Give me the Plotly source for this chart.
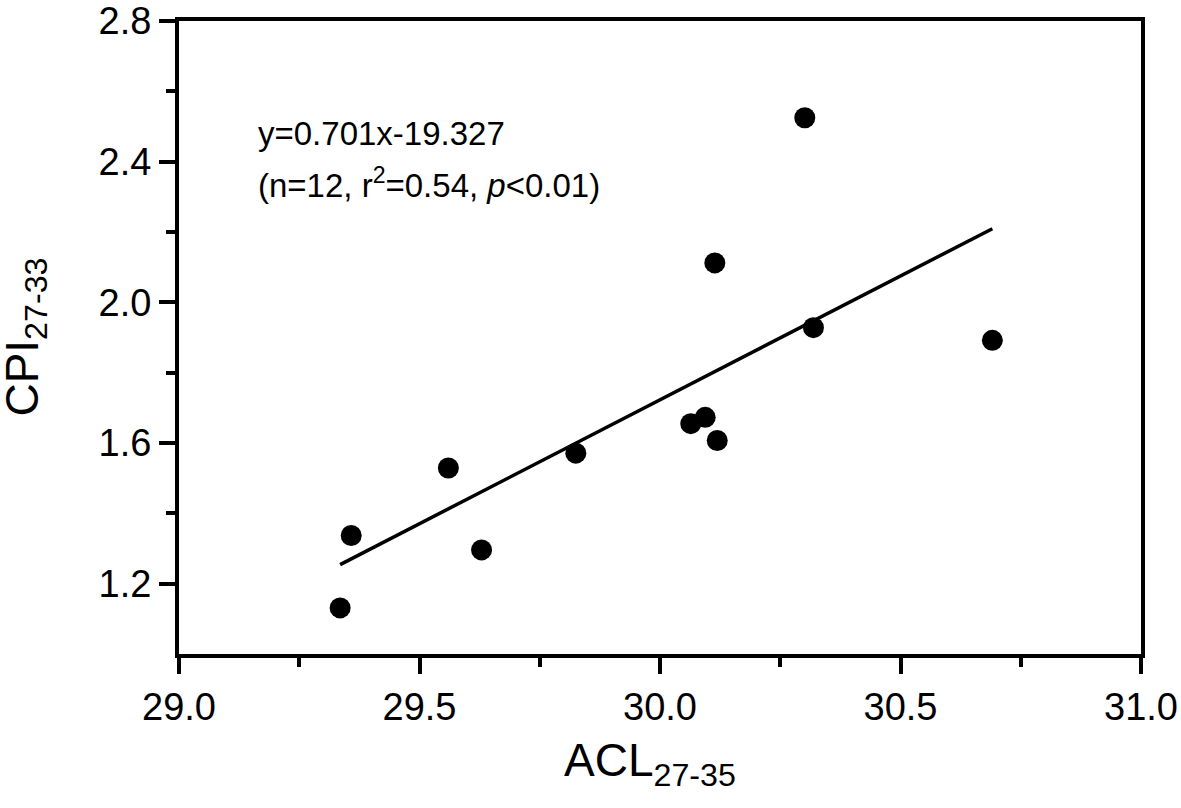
import numpy as np
import plotly.graph_objects as go

# Data
acl = [29.335, 29.358, 29.560, 29.629, 29.825, 30.064, 30.094, 30.119, 30.114, 30.301, 30.319, 30.691]
cpi = [1.131, 1.337, 1.529, 1.296, 1.571, 1.655, 1.673, 1.607, 2.112, 2.525, 1.928, 1.892]

x_ticks = [29.0, 29.5, 30.0, 30.5, 31.0]
x_ticklabels = ["29.0", "29.5", "30.0", "30.5", "31.0"]
y_ticks = [1.2, 1.6, 2.0, 2.4, 2.8]
y_ticklabels = ["1.2", "1.6", "2.0", "2.4", "2.8"]

x_title = "ACL<sub>27-35</sub>"
y_title = "CPI<sub>27-33</sub>"
eq_text = "y=0.701x-19.327"
stat_text = "(n=12, r<sup>2</sup>=0.54, <i>p</i><0.01)"

# Linear fit from the data
slope, intercept = np.polyfit(acl, cpi, 1)
fit_x = np.array([min(acl), max(acl)])
fit_y = slope * fit_x + intercept

FONT = "Liberation Sans, Arial, Helvetica, sans-serif"

fig = go.Figure()
fig.add_trace(go.Scatter(x=fit_x, y=fit_y, mode="lines",
                         line=dict(color="black", width=3.5), showlegend=False))
fig.add_trace(go.Scatter(x=acl, y=cpi, mode="markers",
                         marker=dict(color="black", size=21, line=dict(width=0)),
                         showlegend=False))

fig.add_annotation(x=29.16, y=2.48, xref="x", yref="y", text=eq_text, showarrow=False,
                   xanchor="left", yanchor="middle", font=dict(family=FONT, size=33, color="black"))
fig.add_annotation(x=29.16, y=2.34, xref="x", yref="y", text=stat_text, showarrow=False,
                   xanchor="left", yanchor="middle", font=dict(family=FONT, size=33, color="black"))

# axis titles
fig.add_annotation(x=0.4896, y=-0.173, xref="paper", yref="paper", text=x_title, showarrow=False,
                   xanchor="center", yanchor="middle", font=dict(family=FONT, size=46, color="black"))
fig.add_annotation(x=-0.16, y=0.5, xref="paper", yref="paper", text=y_title, showarrow=False,
                   textangle=-90, xanchor="center", yanchor="middle",
                   font=dict(family=FONT, size=46, color="black"))

axis_common = dict(showgrid=False, zeroline=False, showline=True, linecolor="black", linewidth=4,
                   mirror=True, ticks="outside", ticklen=16, tickwidth=3.5, tickcolor="black",
                   automargin=False, ticklabeloverflow="allow",
                   tickfont=dict(family=FONT, size=38, color="black"))

fig.update_xaxes(range=[29.0, 31.0], tickvals=x_ticks, ticktext=x_ticklabels,
                 minor=dict(tickvals=[29.25, 29.75, 30.25, 30.75], ticklen=9, tickwidth=3.5,
                            tickcolor="black", ticks="outside"),
                 **axis_common)
fig.update_yaxes(range=[1.0, 2.8], tickvals=y_ticks, ticktext=y_ticklabels,
                 minor=dict(tickvals=[1.4, 1.8, 2.2, 2.6], ticklen=9, tickwidth=3.5,
                            tickcolor="black", ticks="outside"),
                 **axis_common)

fig.update_layout(width=1181, height=808, plot_bgcolor="white", paper_bgcolor="white",
                  margin=dict(l=179, r=40, t=21, b=154), showlegend=False)

fig.write_html("out.html", config={"displayModeBar": False},
               post_script="document.body.style.margin='0';document.body.style.overflow='hidden';")
